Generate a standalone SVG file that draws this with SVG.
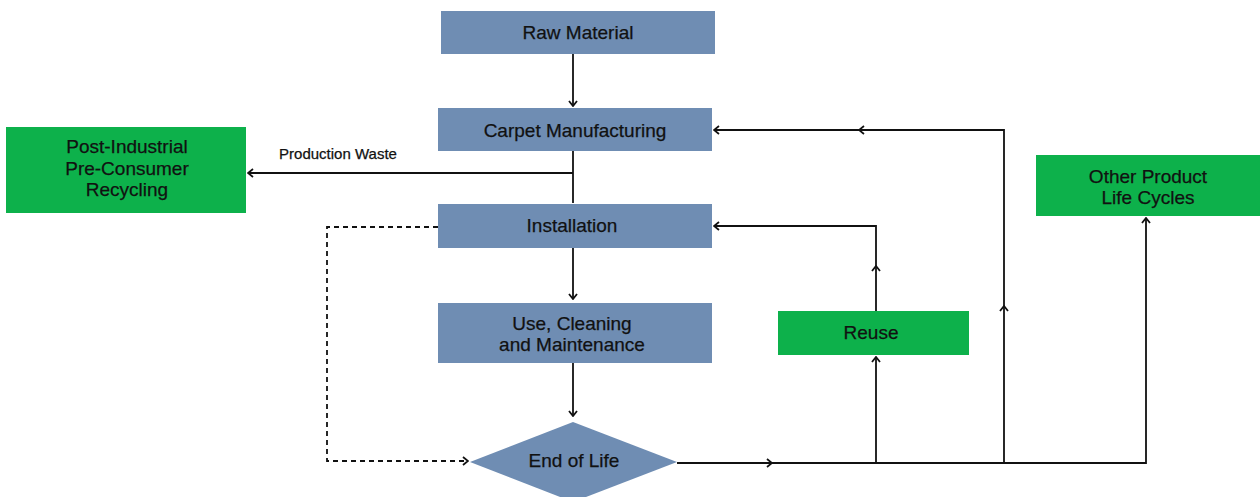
<svg xmlns="http://www.w3.org/2000/svg" width="1260" height="497" viewBox="0 0 1260 497">
<defs>
<style>
.blue{fill:#6f8db3}
.green{fill:#0db14b}
text{font-family:"Liberation Sans",Arial,sans-serif;font-size:19px;fill:#111;stroke:#111;stroke-width:0.25;text-anchor:middle}
.small{font-size:15px}
.ln{fill:none;stroke:#111;stroke-width:1.8}
.dash{stroke-dasharray:5,4}
</style>
<marker id="ar" viewBox="0 0 10 10" refX="9" refY="5" markerWidth="10" markerHeight="10" markerUnits="userSpaceOnUse" orient="auto">
<path d="M4,1 L9,5 L4,9" fill="none" stroke="#111" stroke-width="1.8"/>
</marker>
</defs>
<rect width="1260" height="497" fill="#fff"/>
<g id="connectors">
<path class="ln" d="M573,54 V106" marker-end="url(#ar)"/>
<path class="ln" d="M573,151 V203"/>
<path class="ln" d="M573,173 H248" marker-end="url(#ar)"/>
<path class="ln" d="M573,248 V299" marker-end="url(#ar)"/>
<path class="ln" d="M573,363 V416" marker-end="url(#ar)"/>
<path class="ln dash" d="M438,227 H327 V461 H468" marker-end="url(#ar)"/>
<path class="ln" d="M677,463 H772" marker-end="url(#ar)"/>
<path class="ln" d="M772,463 H1146 V218" marker-end="url(#ar)"/>
<path class="ln" d="M876,463 V357" marker-end="url(#ar)"/>
<path class="ln" d="M876,311 V266" marker-end="url(#ar)"/>
<path class="ln" d="M876,266 V226 H714" marker-end="url(#ar)"/>
<path class="ln" d="M1004,463 V306" marker-end="url(#ar)"/>
<path class="ln" d="M1004,306 V130 H859" marker-end="url(#ar)"/>
<path class="ln" d="M859,130 H714" marker-end="url(#ar)"/>
<text class="small" x="338" y="159">Production Waste</text>
</g>
<g id="raw-material">
<rect class="blue" x="441" y="11" width="274" height="43"/>
<text x="578" y="39">Raw Material</text>
</g>
<g id="carpet-manufacturing">
<rect class="blue" x="438" y="108" width="274" height="43"/>
<text x="575" y="137">Carpet Manufacturing</text>
</g>
<g id="post-industrial">
<rect class="green" x="6" y="127" width="240" height="86"/>
<text x="127" y="153">Post-Industrial</text>
<text x="127" y="175">Pre-Consumer</text>
<text x="127" y="196">Recycling</text>
</g>
<g id="installation">
<rect class="blue" x="438" y="204" width="274" height="44"/>
<text x="572" y="232">Installation</text>
</g>
<g id="use-cleaning">
<rect class="blue" x="438" y="303" width="274" height="60"/>
<text x="572" y="330">Use, Cleaning</text>
<text x="572" y="351">and Maintenance</text>
</g>
<g id="end-of-life">
<polygon class="blue" points="573,422 677,462 573,502 470,462"/>
<text x="574" y="467">End of Life</text>
</g>
<g id="reuse">
<rect class="green" x="778" y="311" width="191" height="44"/>
<text x="871" y="339">Reuse</text>
</g>
<g id="other-product">
<rect class="green" x="1036" y="155" width="224" height="61"/>
<text x="1148" y="183">Other Product</text>
<text x="1148" y="204">Life Cycles</text>
</g>
</svg>
